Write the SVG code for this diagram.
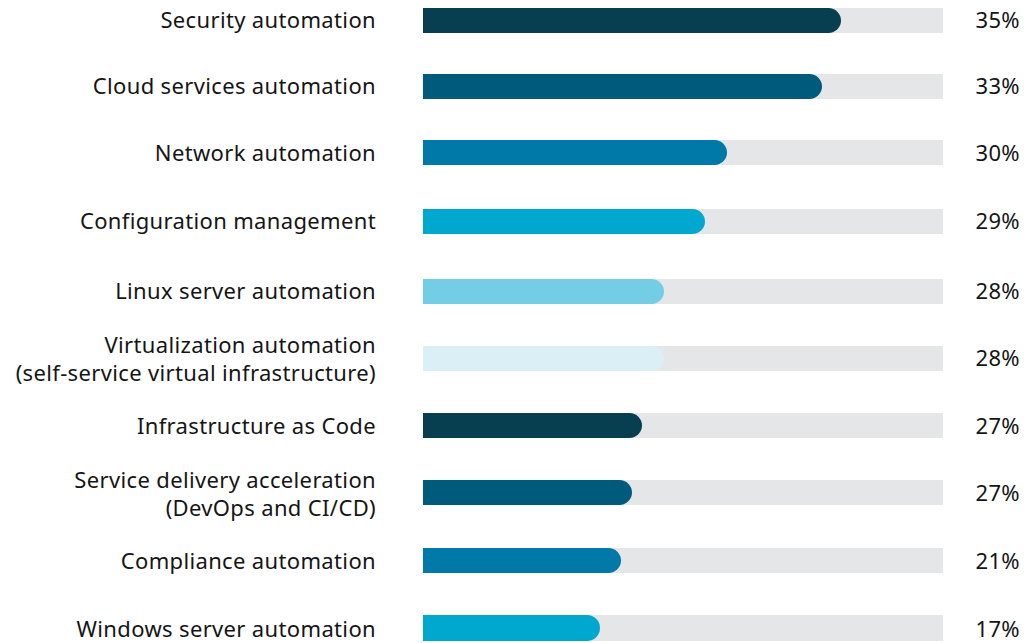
<svg xmlns="http://www.w3.org/2000/svg" width="1026" height="643" viewBox="0 0 1026 643">
<style>
.lbl{font-family:"Noto Sans","Liberation Sans",sans-serif;font-size:22px;letter-spacing:0.35px;fill:#151515;text-anchor:end}
.track{fill:#e5e6e8}
</style>
<rect width="1026" height="643" fill="#ffffff"/>
<g id="row1"><text class="lbl" x="376" y="28">Security automation</text><rect class="track" x="423" y="8" width="520" height="25"/><path d="M423 8H828.5a12.5 12.5 0 0 1 0 25H423z" fill="#073f50"/><text class="lbl" x="1020" y="28">35%</text></g>
<g id="row2"><text class="lbl" x="376" y="94">Cloud services automation</text><rect class="track" x="423" y="74" width="520" height="25"/><path d="M423 74H809.5a12.5 12.5 0 0 1 0 25H423z" fill="#005a7c"/><text class="lbl" x="1020" y="94">33%</text></g>
<g id="row3"><text class="lbl" x="376" y="161">Network automation</text><rect class="track" x="423" y="140" width="520" height="25"/><path d="M423 140H714.5a12.5 12.5 0 0 1 0 25H423z" fill="#0079a8"/><text class="lbl" x="1020" y="161">30%</text></g>
<g id="row4"><text class="lbl" x="376" y="229">Configuration management</text><rect class="track" x="423" y="209" width="520" height="25"/><path d="M423 209H692.5a12.5 12.5 0 0 1 0 25H423z" fill="#00a8cf"/><text class="lbl" x="1020" y="229">29%</text></g>
<g id="row5"><text class="lbl" x="376" y="299">Linux server automation</text><rect class="track" x="423" y="279" width="520" height="25"/><path d="M423 279H651.5a12.5 12.5 0 0 1 0 25H423z" fill="#73cde4"/><text class="lbl" x="1020" y="299">28%</text></g>
<g id="row6"><text class="lbl" x="376" y="353">Virtualization automation</text><text class="lbl" x="376" y="381">(self-service virtual infrastructure)</text><rect class="track" x="423" y="346" width="520" height="25"/><path d="M423 346H651.5a12.5 12.5 0 0 1 0 25H423z" fill="#dbeff6"/><text class="lbl" x="1020" y="366">28%</text></g>
<g id="row7"><text class="lbl" x="376" y="434">Infrastructure as Code</text><rect class="track" x="423" y="413" width="520" height="25"/><path d="M423 413H629.5a12.5 12.5 0 0 1 0 25H423z" fill="#073f50"/><text class="lbl" x="1020" y="434">27%</text></g>
<g id="row8"><text class="lbl" x="376" y="488">Service delivery acceleration</text><text class="lbl" x="376" y="516">(DevOps and CI/CD)</text><rect class="track" x="423" y="480" width="520" height="25"/><path d="M423 480H619.5a12.5 12.5 0 0 1 0 25H423z" fill="#005a7c"/><text class="lbl" x="1020" y="501">27%</text></g>
<g id="row9"><text class="lbl" x="376" y="569">Compliance automation</text><rect class="track" x="423" y="548" width="520" height="25"/><path d="M423 548H608.5a12.5 12.5 0 0 1 0 25H423z" fill="#0079a8"/><text class="lbl" x="1020" y="569">21%</text></g>
<g id="row10"><text class="lbl" x="376" y="637">Windows server automation</text><rect class="track" x="423" y="615" width="520" height="26"/><path d="M423 615H587a13 13 0 0 1 0 26H423z" fill="#00a8cf"/><text class="lbl" x="1020" y="637">17%</text></g>
</svg>
